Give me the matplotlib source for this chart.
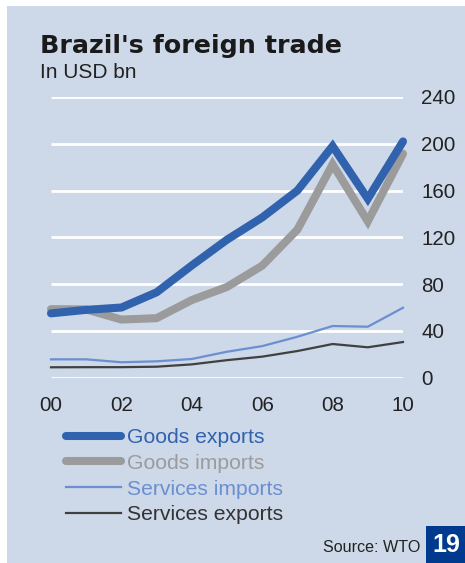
import matplotlib
matplotlib.use("Agg")
import matplotlib.pyplot as plt
from matplotlib.patches import Rectangle

# Brazil's foreign trade, USD bn
years = [2000, 2001, 2002, 2003, 2004, 2005, 2006, 2007, 2008, 2009, 2010]
goods_exports = [55, 58, 60, 73, 96, 118, 137, 160, 198, 153, 202]
goods_imports = [58.6, 58.4, 49.7, 50.9, 66.4, 77.6, 95.8, 126.6, 182.4, 133.7, 191.5]
services_imports = [15.7, 15.7, 13.2, 14, 16, 22.2, 27, 35, 44.2, 43.6, 59.8]
services_exports = [8.9, 9, 9, 9.4, 11.4, 15, 18, 22.8, 28.8, 26, 30.5]
yticks = [0, 40, 80, 120, 160, 200, 240]
xticks = [2000, 2002, 2004, 2006, 2008, 2010]
xlabels = ["00", "02", "04", "06", "08", "10"]

W, H = 465, 563
BG = "#cdd8e9"
BLUE = "#3162ad"
GREY = "#9b9b9b"
LIGHT = "#6b8fcf"
DARK = "#404040"

plt.rcParams["font.family"] = ["Liberation Sans", "DejaVu Sans"]

fig = plt.figure(figsize=(W / 100, H / 100), dpi=100)
fig.patch.set_facecolor("white")
fig.patches.append(Rectangle((7 / W, 0), 1, 1 - 6 / H, transform=fig.transFigure,
                             facecolor=BG, edgecolor="none", zorder=-5))

ax = fig.add_axes([51 / W, 1 - 377.7 / H, 352 / W, 280.7 / H])
ax.set_facecolor("none")
ax.set_zorder(2)
ax.set_xlim(2000, 2010)
ax.set_ylim(0, 240)
for s in ax.spines.values():
    s.set_visible(False)

ax.hlines(yticks, 2000, 2010, colors="white", linewidth=2, zorder=1)

ax.plot(years, services_exports, color=DARK, lw=1.6, label="Services exports", zorder=2, clip_on=False)
ax.plot(years, services_imports, color=LIGHT, lw=1.6, label="Services imports", zorder=2, clip_on=False)
ax.plot(years, goods_imports, color=GREY, lw=5.8, label="Goods imports", zorder=3,
        solid_capstyle="round", solid_joinstyle="miter", clip_on=False)
ax.plot(years, goods_exports, color=BLUE, lw=5.8, label="Goods exports", zorder=4,
        solid_capstyle="round", solid_joinstyle="miter", clip_on=False)

ax.yaxis.tick_right()
ax.set_yticks(yticks)
ax.set_yticklabels([str(v) for v in yticks], fontsize=14.8, color="#222222")
ax.tick_params(axis="y", length=0, pad=13)
ax.set_xticks(xticks)
ax.set_xticklabels(xlabels, fontsize=14.8, color="#222222")
ax.tick_params(axis="x", length=0, pad=13)

handles, labels = ax.get_legend_handles_labels()
order = [3, 2, 1, 0]
leg = fig.legend([handles[i] for i in order], [labels[i] for i in order],
                 loc="upper left", bbox_to_anchor=(66 / W, 1 - 428 / H),
                 frameon=False, fontsize=15.2, handlelength=2.6, handletextpad=0.3,
                 labelspacing=0.32, borderaxespad=0, borderpad=0)
for txt, col in zip(leg.get_texts(), [BLUE, GREY, LIGHT, "#333333"]):
    txt.set_color(col)

fig.text(40 / W, 1 - 53 / H, "Brazil's foreign trade", fontsize=18.3, fontweight="bold",
         color="#1a1a1a", family="DejaVu Sans", va="baseline")
fig.text(40 / W, 1 - 78 / H, "In USD bn", fontsize=15, color="#222222", va="baseline")

fig.text(420 / W, 1 - 547 / H, "Source: WTO", fontsize=11.6, color="#222222", ha="right", va="center")
fig.patches.append(Rectangle((426 / W, 0), 39 / W, 37 / H, transform=fig.transFigure,
                             facecolor="#003a8f", edgecolor="none", zorder=1))
fig.text(446 / W, 1 - 545 / H, "19", fontsize=18, fontweight="bold", color="white",
         ha="center", va="center")

fig.savefig("out.png", dpi=100, facecolor=fig.get_facecolor())
